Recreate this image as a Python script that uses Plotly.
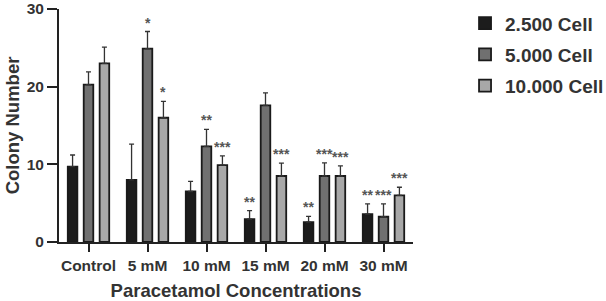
import plotly.graph_objects as go

categories = ["Control", "5 mM", "10 mM", "15 mM", "20 mM", "30 mM"]
series_names = ["2.500 Cell", "5.000 Cell", "10.000 Cell"]

cell_2500 = [9.7, 8.0, 6.5, 2.95, 2.55, 3.6]
cell_2500_err = [1.5, 4.6, 1.3, 1.1, 0.75, 1.3]
cell_5000 = [20.25, 24.9, 12.3, 17.6, 8.5, 3.25]
cell_5000_err = [1.65, 2.2, 2.2, 1.6, 1.7, 1.65]
cell_10000 = [23.0, 16.0, 9.9, 8.5, 8.5, 6.0]
cell_10000_err = [2.1, 2.1, 1.2, 1.65, 1.3, 1.05]

stars_2500 = ["", "", "", "**", "**", "**"]
stars_5000 = ["", "*", "**", "", "***", "***"]
stars_10000 = ["", "*", "***", "***", "***", "***"]

y_ticks = [0, 10, 20, 30]

values = [cell_2500, cell_5000, cell_10000]
errors = [cell_2500_err, cell_5000_err, cell_10000_err]
stars = [stars_2500, stars_5000, stars_10000]
fills = ["#1c1c1c", "#707070", "#a8a8a8"]

FONT = "Liberation Sans, Arial, sans-serif"
TXT = "#333333"
W, H = 606, 301
ML, MR, MT, MB = 59, 193, 9, 59
BARGAP = 0.19
BARGROUPGAP = 0.4

fig = go.Figure()
for i in range(3):
    fig.add_trace(go.Bar(
        x=categories, y=values[i], name=series_names[i],
        legendgroup=series_names[i],
        marker=dict(color=fills[i], line=dict(color="#1a1a1a", width=1.8)),
        error_y=dict(type="data", symmetric=False, array=errors[i],
                     arrayminus=[0] * len(categories),
                     color="#333333", thickness=1.3, width=2.5),
    ))

plot_w = W - ML - MR
slot = plot_w / len(categories) * (1 - BARGAP) / 3
for i in range(3):
    for j, cat in enumerate(categories):
        if stars[i][j]:
            fig.add_annotation(
                x=cat, y=values[i][j] + errors[i][j], xref="x", yref="y",
                text=stars[i][j], showarrow=False, yanchor="bottom",
                xshift=(i - 1) * slot, yshift=-1,
                font=dict(family=FONT, size=14, color="#555555", weight="bold"),
            )

fig.update_layout(
    width=W, height=H,
    margin=dict(l=ML, r=MR, t=MT, b=MB, autoexpand=False),
    paper_bgcolor="white", plot_bgcolor="white",
    barmode="group", bargap=BARGAP, bargroupgap=BARGROUPGAP,
    font=dict(family=FONT, color=TXT, weight="bold"),
    legend=dict(
        x=1.147, y=1.02, xanchor="left", yanchor="top",
        font=dict(family=FONT, size=19, color=TXT, weight="bold"),
        tracegroupgap=3.5, bgcolor="rgba(0,0,0,0)",
    ),
    showlegend=True,
)
fig.update_xaxes(
    automargin=False,
    showline=True, linecolor="#222222", linewidth=2,
    ticks="outside", ticklen=8, tickwidth=2, tickcolor="#222222",
    tickfont=dict(family=FONT, size=15.5, color=TXT, weight="bold"),
    title=dict(text="Paracetamol Concentrations", standoff=12,
               font=dict(family=FONT, size=18.5, color=TXT, weight="bold")),
    showgrid=False,
)
fig.update_yaxes(
    automargin=False, ticklabeloverflow="allow",
    range=[0, 30], tickvals=y_ticks,
    showline=True, linecolor="#222222", linewidth=2,
    ticks="outside", ticklen=10, tickwidth=2, tickcolor="#222222",
    tickfont=dict(family=FONT, size=15.5, color=TXT, weight="bold"),
    title=dict(text="Colony Number", standoff=2,
               font=dict(family=FONT, size=18.5, color=TXT, weight="bold")),
    showgrid=False, zeroline=False,
)

fig.write_html("out.html", config={"displayModeBar": False},
               post_script="document.body.style.margin='0';")
